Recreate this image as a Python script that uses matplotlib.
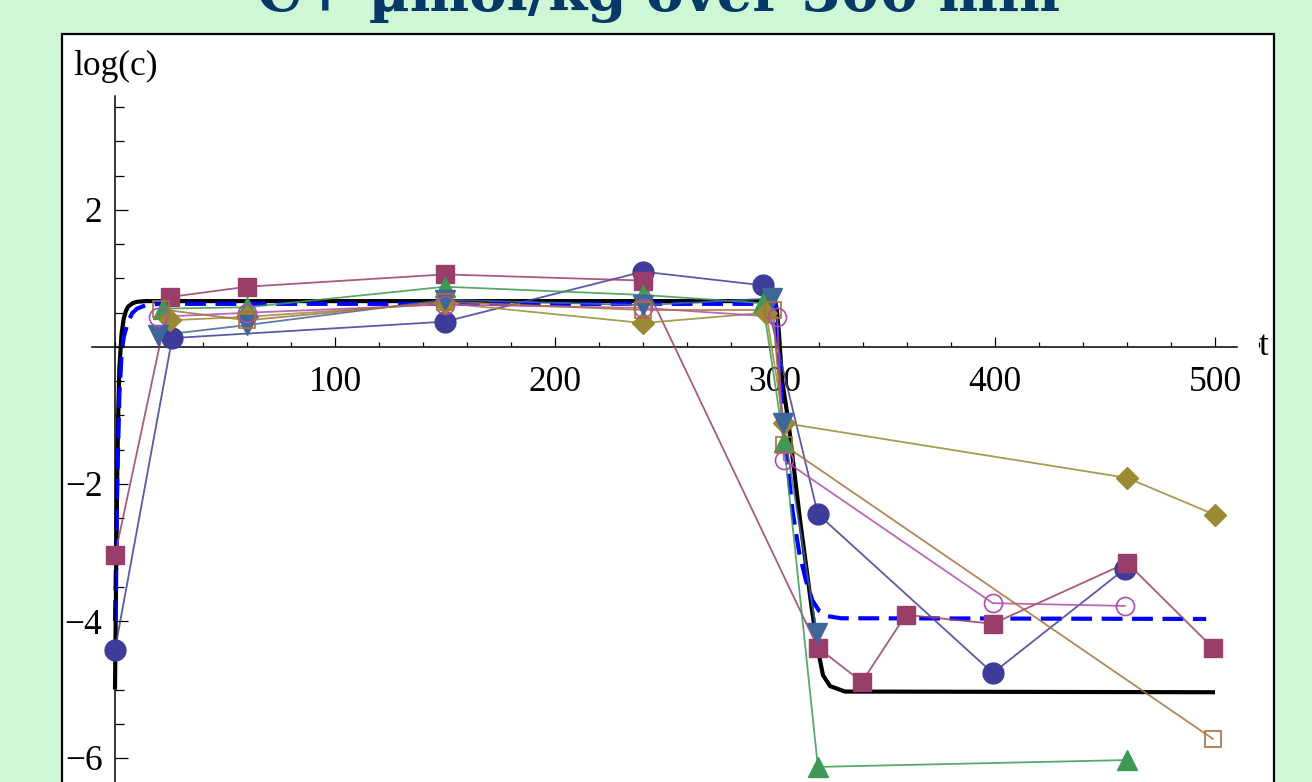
import matplotlib
matplotlib.use('Agg')
import matplotlib.pyplot as plt
from matplotlib.patches import Rectangle
from matplotlib.ticker import MultipleLocator, FixedLocator

# model curve (solid black) and second model (blue dashed)
model_t = [0, 0.5, 1, 1.5, 2, 3, 4, 5, 6, 8, 10, 14, 20, 150, 300, 300.8, 301.8, 303.2,
           306, 311.4, 316.8, 319.5, 321.8, 325, 331.8, 500]
model_logc = [-5.0, -3.4, -1.9, -0.9, -0.3, 0.2, 0.42, 0.53, 0.59, 0.64, 0.66, 0.67, 0.67, 0.67,
              0.67, 0.55, 0.2, -0.48, -1.07, -2.53, -3.84, -4.42, -4.79, -4.95, -5.03, -5.04]
model2_t = [0, 1, 2, 3, 4, 6, 8, 10, 14, 20, 150, 300, 302, 304, 306, 308, 311, 314, 317,
            320, 324, 330, 496]
model2_logc = [-4.0, -2.0, -0.7, -0.1, 0.15, 0.38, 0.5, 0.56, 0.61, 0.63, 0.63, 0.63, -0.3,
               -1.2, -1.8, -2.4, -3.0, -3.4, -3.7, -3.85, -3.93, -3.96, -3.97]

# measured runs
run1_t = [0, 26, 150, 240, 294.5, 319.5, 399, 459]
run1_logc = [-4.42, 0.13, 0.37, 1.1, 0.9, -2.44, -4.76, -3.24]
run2_t = [0, 25, 60, 150, 240, 319.5, 339.5, 359.5, 399, 460, 499]
run2_logc = [-3.04, 0.73, 0.88, 1.06, 0.97, -4.39, -4.89, -3.91, -4.04, -3.15, -4.39]
run3_t = [22, 60, 150, 240, 294.5, 304, 319.5, 460]
run3_logc = [0.56, 0.58, 0.88, 0.76, 0.64, -1.39, -6.13, -6.03]
run4_t = [25, 60, 150, 240, 296, 304, 460, 500]
run4_logc = [0.39, 0.44, 0.64, 0.35, 0.5, -1.11, -1.91, -2.45]
run5_t = [19.5, 60, 150, 240, 298.6, 303.6, 319]
run5_logc = [0.17, 0.32, 0.69, 0.61, 0.71, -1.11, -4.18]
run6_t = [19.5, 60, 150, 240, 301, 304, 399, 459]
run6_logc = [0.44, 0.5, 0.62, 0.57, 0.44, -1.65, -3.74, -3.78]
run7_t = [21, 60, 150, 240, 299, 304, 499]
run7_logc = [0.55, 0.39, 0.66, 0.54, 0.54, -1.43, -5.72]

runs = [
    (run1_t, run1_logc, '#3d3d99', 'o', 15, True),
    (run2_t, run2_logc, '#993d6b', 's', 13, True),
    (run3_t, run3_logc, '#3d9954', '^', 14, True),
    (run4_t, run4_logc, '#998a33', 'D', 11, True),
    (run5_t, run5_logc, '#3d6699', 'v', 14, True),
    (run6_t, run6_logc, '#b04cb0', 'o', 13, False),
    (run7_t, run7_logc, '#a8703d', 's', 12, False),
]

W, H = 1312, 782
fig = plt.figure(figsize=(W / 100, H / 100), dpi=100)
fig.patch.set_facecolor('#cef8d5')

# white panel with a black frame
px0, px1, py_top = 62, 1274, 34
fig.patches.append(Rectangle((px0 / W, -0.2), (px1 - px0) / W, 1.2 - py_top / H,
                             transform=fig.transFigure, facecolor='white',
                             edgecolor='black', linewidth=1.6, zorder=-5))

fig.text(0.502, 1 - 11 / H, 'C+ µmol/kg over 300 min', ha='center', va='baseline',
         fontsize=40.5, fontweight='bold', family='DejaVu Serif', color='#063868')

# pixel mapping: t=0 at x=115, 2.2 px per minute; log(c)=0 at y=347, 68.5 px per unit
x0px, sx = 115, 2.2
y0px, sy = 347, 68.5
xmin, xmax = -12, 530
ymin, ymax = -6.6, 3.75
left = (x0px + xmin * sx) / W
width = (xmax - xmin) * sx / W
bottom = 1 - (y0px - ymin * sy) / H
height = (ymax - ymin) * sy / H
ax = fig.add_axes([left, bottom, width, height], zorder=2)
ax.set_facecolor('none')
ax.set_xlim(xmin, xmax)
ax.set_ylim(ymin, ymax)

ax.plot(model_t, model_logc, color='black', lw=3.0, zorder=2, solid_capstyle='butt')
ax.plot(model2_t, model2_logc, color='#0000ff', lw=3.0, dashes=(5, 2.3), zorder=2.1)

for t, v, c, m, ms, filled in runs:
    ax.plot(t, v, color=c, lw=1.3, alpha=0.85, zorder=3)
    if filled:
        ax.plot(t, v, ls='none', marker=m, ms=ms, color=c, mec=c, zorder=4)
    else:
        ax.plot(t, v, ls='none', marker=m, ms=ms, mfc='none', mec=c, mew=1.2, zorder=4)

# Mathematica-style axes crossing at the origin
for s in ['top', 'right']:
    ax.spines[s].set_visible(False)
ax.spines['left'].set_position(('data', 0))
ax.spines['bottom'].set_position(('data', 0))
ax.spines['left'].set_bounds(ymin, 3.66)
ax.spines['bottom'].set_bounds(-10.5, 510)
ax.spines['left'].set_linewidth(1.1)
ax.spines['bottom'].set_linewidth(1.1)

ax.xaxis.set_major_locator(FixedLocator([100, 200, 300, 400, 500]))
ax.xaxis.set_minor_locator(MultipleLocator(20))
ax.yaxis.set_major_locator(FixedLocator([-6, -4, -2, 2]))
ax.yaxis.set_minor_locator(MultipleLocator(0.5))
ax.set_xticklabels(['100', '200', '300', '400', '500'])
ax.set_yticklabels(['\u22126', '\u22124', '\u22122', '2'])

ax.tick_params(axis='x', which='major', direction='in', length=7, width=0.9, pad=14,
               labelsize=25.5, labelfontfamily='Liberation Serif')
ax.tick_params(axis='x', which='minor', direction='in', length=3.6, width=0.9)
ax.tick_params(axis='y', which='major', direction='in', length=9, width=0.9, pad=9,
               labelsize=25.5, labelfontfamily='Liberation Serif')
ax.tick_params(axis='y', which='minor', direction='in', length=6.5, width=0.9)

ax.text(0, 4.1, 'log(c)', ha='center', va='center', fontsize=25.5,
        family='Liberation Serif', clip_on=False)
ax.text(522, 0.0, 't', ha='center', va='center', fontsize=25.5,
        family='Liberation Serif', clip_on=False)

fig.savefig('out.png', dpi=100, facecolor=fig.get_facecolor())
